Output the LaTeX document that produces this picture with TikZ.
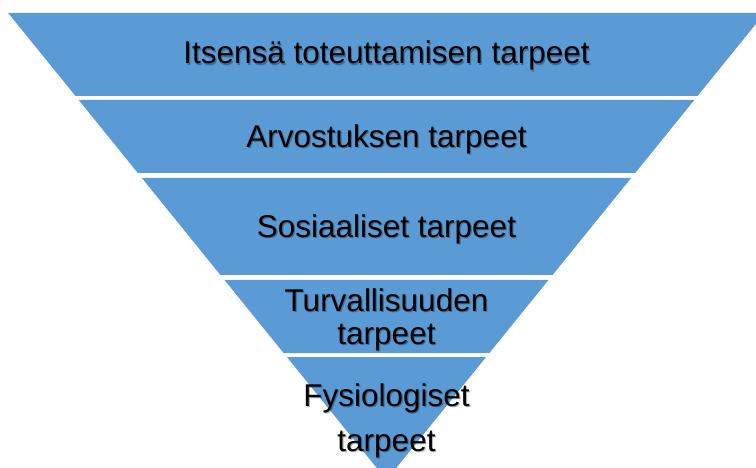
\documentclass[tikz,border=0pt]{standalone}
\usepackage{fontspec}
\setmainfont{Liberation Sans}
\definecolor{layerblue}{HTML}{5B9BD5}
\tikzset{
  layer/.style={fill=layerblue, draw=none},
  lbl/.style={anchor=base, inner sep=0pt, font=\fontsize{31.5}{36}\selectfont, text=black},
  shd/.style={anchor=base, inner sep=0pt, font=\fontsize{31.5}{36}\selectfont, text=black, opacity=0.3},
}
\newcommand{\shadowtext}[3]{%
  \node[shd] at ([xshift=1.2pt,yshift=-1.2pt]#2) {#3};
  \node[lbl] (#1) at (#2) {#3};}
\begin{document}
\begin{tikzpicture}[x=1pt,y=1pt]
\useasboundingbox (0,0) rectangle (756,-468);
\clip (0,0) rectangle (756,-468);
\fill[white] (0,0) rectangle (756,-468);
% layers
\path[layer] (8.2,-13) -- (764.8,-13) -- (697.5,-96) -- (75.5,-96) -- cycle;
\path[layer] (78.7,-100) -- (694.3,-100) -- (635.2,-173) -- (137.8,-173) -- cycle;
\path[layer] (141.9,-178) -- (631.1,-178) -- (552.6,-275) -- (220.4,-275) -- cycle;
\path[layer] (224.5,-280) -- (548.5,-280) -- (489.4,-353) -- (283.6,-353) -- cycle;
\path[layer] (286.9,-357) -- (486.1,-357) -- (386.5,-480) -- cycle;
% labels
\shadowtext{t1}{386.5,-64}{Itsensä toteuttamisen tarpeet}
\shadowtext{t2}{386.5,-147.5}{Arvostuksen tarpeet}
\shadowtext{t3}{386.5,-237}{Sosiaaliset tarpeet}
\shadowtext{t4a}{386.5,-311}{Turvallisuuden}
\shadowtext{t4b}{386.5,-344}{tarpeet}
\shadowtext{t5a}{386.5,-406}{Fysiologiset}
\shadowtext{t5b}{386.5,-451}{tarpeet}
\end{tikzpicture}
\end{document}
